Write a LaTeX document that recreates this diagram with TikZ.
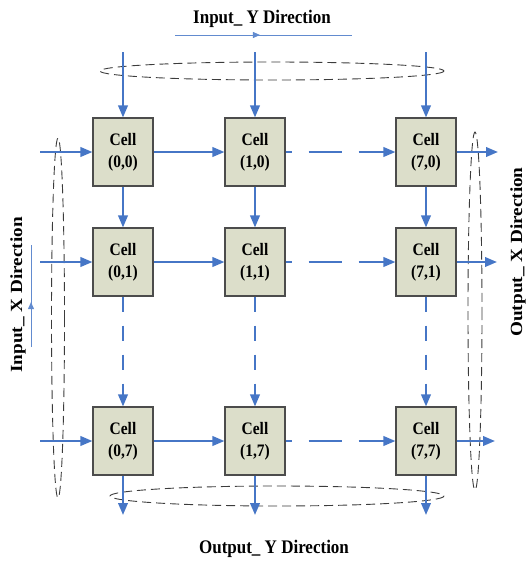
\documentclass[tikz,border=0pt]{standalone}
\usepackage{fontspec}
\setmainfont{Liberation Serif}
\usepackage{graphicx}
\usetikzlibrary{arrows.meta,decorations.markings}
\definecolor{flowblue}{RGB}{70,118,198}
\definecolor{cellfill}{RGB}{220,222,202}
\definecolor{ringgray}{RGB}{60,60,60}
\newcommand{\vst}[1]{\scalebox{1}[1.13]{#1}}
\newcommand{\hst}[1]{\scalebox{1.13}[1]{#1}}
\begin{document}
\begin{tikzpicture}[x=1pt,y=-1pt,
 cellbox/.style={draw=black!70, fill=cellfill, line width=1.1pt, minimum width=60pt, minimum height=68pt, inner sep=0pt, align=center, font=\fontsize{15.5}{22}\selectfont\bfseries},
 flow/.style={draw=flowblue, line width=2.2pt, -{Triangle[length=12pt,width=9.5pt]}},
 hdashflow/.style={flow, dash pattern=on 33pt off 17pt, dash phase=27pt},
 vdashflow/.style={flow, dash pattern=on 15pt off 14pt},
 ring/.style={draw=ringgray, line width=0.9pt, dash pattern=on 9pt off 5pt},
 title/.style={font=\fontsize{17}{20}\selectfont\bfseries, inner sep=0pt},
 thinflow/.style={draw=flowblue!85, line width=0.9pt, postaction=decorate},
 midarrow/.style={decoration={markings, mark=at position #1 with {\arrow{Triangle[length=7pt,width=6pt]}}}}
]
\useasboundingbox (0,0) rectangle (526,563);

% dashed rings
\draw[ring] (272,71) ellipse [x radius=172, y radius=9];
\draw[ring] (277,496) ellipse [x radius=167, y radius=10];
\draw[ring] (58,318) ellipse [x radius=6.5, y radius=180];
\draw[ring] (475,311) ellipse [x radius=7, y radius=179];

% cells
\node[cellbox] (c00) at (123,152) {\vst{Cell}\\\vst{(0,0)}};
\node[cellbox] (c10) at (255,152) {\vst{Cell}\\\vst{(1,0)}};
\node[cellbox] (c70) at (426,152) {\vst{Cell}\\\vst{(7,0)}};
\node[cellbox] (c01) at (123,262) {\vst{Cell}\\\vst{(0,1)}};
\node[cellbox] (c11) at (255,262) {\vst{Cell}\\\vst{(1,1)}};
\node[cellbox] (c71) at (426,262) {\vst{Cell}\\\vst{(7,1)}};
\node[cellbox] (c07) at (123,441) {\vst{Cell}\\\vst{(0,7)}};
\node[cellbox] (c17) at (255,441) {\vst{Cell}\\\vst{(1,7)}};
\node[cellbox] (c77) at (426,441) {\vst{Cell}\\\vst{(7,7)}};

% free ends
\coordinate (t0) at (123,52);
\coordinate (t1) at (255,52);
\coordinate (t7) at (426,52);
\coordinate (b0) at (123,515);
\coordinate (b1) at (255,515);
\coordinate (b7) at (426,515);
\coordinate (l0) at (40,152);
\coordinate (l1) at (40,262);
\coordinate (l7) at (40,441);
\coordinate (r0) at (498,152);
\coordinate (r1) at (497,262);
\coordinate (r7) at (495,441);

% inputs / outputs
\draw[flow] (t0) -- (c00.north);
\draw[flow] (t1) -- (c10.north);
\draw[flow] (t7) -- (c70.north);
\draw[flow] (c07.south) -- (b0);
\draw[flow] (c17.south) -- (b1);
\draw[flow] (c77.south) -- (b7);
\draw[flow] (l0) -- (c00.west);
\draw[flow] (l1) -- (c01.west);
\draw[flow] (l7) -- (c07.west);
\draw[flow] (c70.east) -- (r0);
\draw[flow] (c71.east) -- (r1);
\draw[flow] (c77.east) -- (r7);

% horizontal links
\draw[flow] (c00.east) -- (c10.west);
\draw[flow] (c01.east) -- (c11.west);
\draw[flow] (c07.east) -- (c17.west);
\draw[hdashflow] (c10.east) -- (c70.west);
\draw[hdashflow] (c11.east) -- (c71.west);
\draw[hdashflow] (c17.east) -- (c77.west);

% vertical links
\draw[flow] (c00.south) -- (c01.north);
\draw[flow] (c10.south) -- (c11.north);
\draw[flow] (c70.south) -- (c71.north);
\draw[vdashflow] (c01.south) -- (c07.north);
\draw[vdashflow] (c11.south) -- (c17.north);
\draw[vdashflow] (c71.south) -- (c77.north);

% direction labels
\node[title] (iny) at (262,19) {\vst{Input\_ Y Direction}};
\node[title] (outy) at (274,549) {\vst{Output\_ Y Direction}};
\node[title, rotate=90] (inx) at (18,295) {\hst{Input\_ X Direction}};
\node[title, rotate=90] (outx) at (518,252) {\hst{Output\_ X Direction}};

\coordinate (iya) at (175,35);
\coordinate (iyb) at (352,35);
\coordinate (ixa) at (31,347);
\coordinate (ixb) at (31,245);
\draw[thinflow, midarrow=0.48] (iya) -- (iyb);
\draw[thinflow, midarrow=0.44] (ixa) -- (ixb);
\end{tikzpicture}
\end{document}
